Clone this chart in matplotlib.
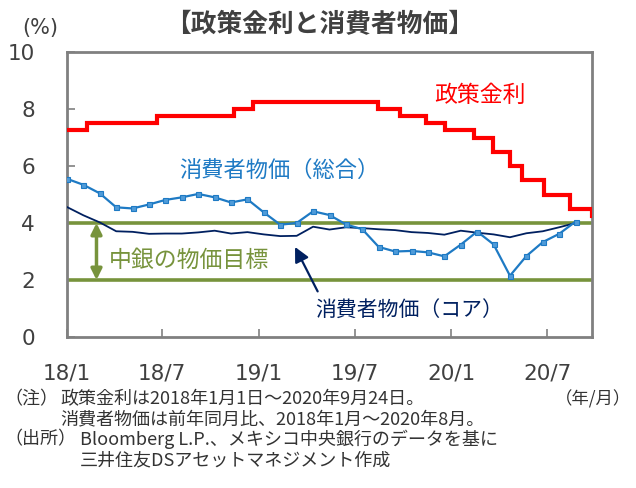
import numpy as np
import pandas as pd
import matplotlib
matplotlib.use('Agg')
import matplotlib.pyplot as plt
import matplotlib.dates as mdates

plt.rcParams['font.family'] = ['Noto Sans CJK JP', 'DejaVu Sans']

# policy rate (Banxico target rate), date of change and new level
rate_dates = ['2018-01-01', '2018-02-08', '2018-06-21', '2018-11-15', '2018-12-20',
              '2019-08-15', '2019-09-26', '2019-11-14', '2019-12-19', '2020-02-13',
              '2020-03-20', '2020-04-21', '2020-05-14', '2020-06-25', '2020-08-13',
              '2020-09-24']
rate_values = [7.25, 7.50, 7.75, 8.00, 8.25, 8.00, 7.75, 7.50, 7.25, 7.00,
               6.50, 6.00, 5.50, 5.00, 4.50, 4.25]

# CPI yoy, monthly 2018/1 - 2020/8
cpi_months = pd.date_range('2018-01-01', '2020-08-01', freq='MS')
cpi_headline = [5.55, 5.34, 5.04, 4.55, 4.51, 4.65, 4.81, 4.90, 5.02, 4.90, 4.72, 4.83,
                4.37, 3.94, 4.00, 4.41, 4.28, 3.95, 3.78, 3.16, 3.00, 3.02, 2.97, 2.83,
                3.24, 3.70, 3.25, 2.15, 2.84, 3.33, 3.62, 4.05]
cpi_core = [4.56, 4.27, 4.02, 3.71, 3.69, 3.62, 3.63, 3.63, 3.67, 3.73, 3.63, 3.68,
            3.60, 3.54, 3.55, 3.87, 3.77, 3.85, 3.82, 3.78, 3.75, 3.68, 3.65, 3.59,
            3.73, 3.66, 3.60, 3.50, 3.64, 3.71, 3.85, 4.00]

target_band = [2, 4]

xtick_dates = ['2018-01-01', '2018-07-01', '2019-01-01', '2019-07-01', '2020-01-01', '2020-07-01']
xtick_labels = ['18/1', '18/7', '19/1', '19/7', '20/1', '20/7']
ytick_values = [0, 2, 4, 6, 8, 10]

red = '#FF0000'
blue = '#1E7AC4'
navy = '#002060'
green = '#77933C'
gray = '#808080'
txt = '#404040'

W, H = 636, 488
fig = plt.figure(figsize=(W / 100, H / 100), dpi=100)


def fx(px):
    return px / W


def fy(py):
    return 1 - py / H


ax = fig.add_axes([fx(67), fy(337), fx(592) - fx(67), fy(52) - fy(337)])

rd = pd.to_datetime(rate_dates)
ax.plot(rd, rate_values, drawstyle='steps-post', color=red, lw=3, zorder=3,
        solid_joinstyle='miter')

for v in target_band:
    ax.axhline(v, color=green, lw=2.6, zorder=2)

ax.set_xlim(rd[0], rd[-1])
ax.set_ylim(0, 10)
ax.set_yticks(ytick_values)
ax.set_yticklabels([str(v) for v in ytick_values])
ax.set_xticks(pd.to_datetime(xtick_dates))
ax.set_xticklabels(xtick_labels)
ax.tick_params(axis='both', direction='in', length=6, width=1.2, color=gray,
               labelsize=15.5, labelcolor=txt)
ax.tick_params(axis='y', pad=23)
ax.tick_params(axis='x', pad=19)
for lab in ax.get_xticklabels() + ax.get_yticklabels():
    lab.set_family('DejaVu Sans')
for s in ax.spines.values():
    s.set_color(gray)
    s.set_linewidth(2)

# CPI on a monthly secondary x axis
ax2 = ax.twiny()
idx = np.arange(len(cpi_months))
ax2.plot(idx, cpi_core, color=navy, lw=1.3, zorder=4)
ax2.plot(idx, cpi_headline, color=blue, lw=1.6, marker='s', markersize=3.6,
         markerfacecolor='#4F9BD9', markeredgecolor=blue, markeredgewidth=0.8, zorder=5)
ax2.set_xlim(0, 32)
ax2.set_ylim(0, 10)
ax2.set_xticks([])
for s in ax2.spines.values():
    s.set_visible(False)

# target band arrow
xa = mdates.date2num(pd.Timestamp('2018-02-26'))
ax.annotate('', xy=(xa, target_band[0]), xytext=(xa, target_band[1]),
            arrowprops=dict(arrowstyle='<|-|>', color=green, lw=2.5,
                            mutation_scale=16, shrinkA=0, shrinkB=0))

# core CPI pointer
ax.annotate('', xy=(mdates.date2num(pd.Timestamp('2019-03-10')), 3.16),
            xytext=(mdates.date2num(pd.Timestamp('2019-04-22')), 1.6),
            arrowprops=dict(arrowstyle='-|>', color=navy, lw=1.6,
                            mutation_scale=22, shrinkA=0, shrinkB=0))

fig.text(fx(480), fy(95), '政策金利', color=red, fontsize=16.5, ha='center', va='center')
fig.text(fx(279), fy(170), '消費者物価（総合）', color=blue, fontsize=16, ha='center', va='center')
fig.text(fx(189), fy(260), '中銀の物価目標', color=green, fontsize=16.5, ha='center', va='center')
fig.text(fx(409), fy(311), '消費者物価（コア）', color=navy, fontsize=15, ha='center', va='center')

fig.text(fx(320), fy(25), '【政策金利と消費者物価】', color=txt, fontsize=18.5,
         fontweight='bold', ha='center', va='center')
fig.text(fx(40), fy(28), '(%)', color=txt, fontsize=15, ha='center', va='center',
         family='DejaVu Sans')

note_color = '#333333'
fs = 13
fig.text(fx(4), fy(399), '（注）', color=note_color, fontsize=fs, ha='left', va='center')
fig.text(fx(60), fy(399), '政策金利は2018年1月1日～2020年9月24日。', color=note_color,
         fontsize=fs, ha='left', va='center')
fig.text(fx(60), fy(419), '消費者物価は前年同月比、2018年1月～2020年8月。', color=note_color,
         fontsize=fs, ha='left', va='center')
fig.text(fx(4), fy(439), '（出所）', color=note_color, fontsize=fs, ha='left', va='center')
fig.text(fx(80), fy(439), 'Bloomberg L.P.、メキシコ中央銀行のデータを基に', color=note_color,
         fontsize=fs, ha='left', va='center')
fig.text(fx(80), fy(460), '三井住友DSアセットマネジメント作成', color=note_color,
         fontsize=fs, ha='left', va='center')
fig.text(fx(631), fy(399), '（年/月）', color=note_color, fontsize=12.5, ha='right', va='center')

fig.savefig('out.png', dpi=100)
